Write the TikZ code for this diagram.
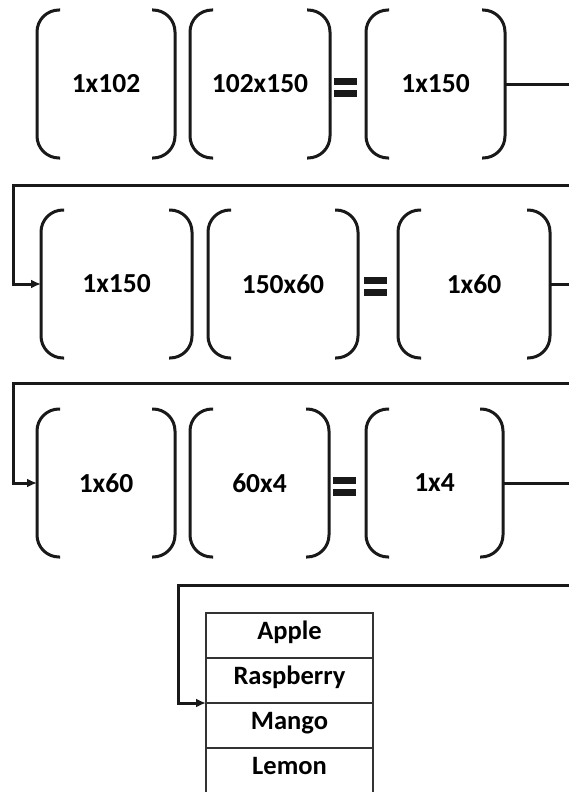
\documentclass[tikz,border=0pt]{standalone}
\usepackage{fontspec}
\setmainfont{Carlito}
\usepackage{tikz}
\usetikzlibrary{positioning, arrows.meta}
\tikzset{
  mat/.style={
    inner sep=0pt, outer sep=0pt, minimum height=148pt,
    font=\fontsize{27.5}{32}\selectfont\bfseries,
  },
  brk/.style={draw=black!90, line width=3pt, rounded corners=22pt},
  link/.style={draw=black!90, line width=3pt},
  flow/.style={draw=black!90, line width=3pt, -{Latex[length=10pt, width=9pt]}},
  eqsign/.style={
    inner sep=0pt, outer sep=0pt, minimum width=23pt, minimum height=19pt,
    path picture={
      \fill[black!90] (path picture bounding box.north west) rectangle ([yshift=-7pt]path picture bounding box.north east);
      \fill[black!90] ([yshift=7pt]path picture bounding box.south west) rectangle (path picture bounding box.south east);
    },
  },
  fruit/.style={
    draw=black!80, line width=1.3pt, inner sep=0pt, outer sep=0pt,
    minimum width=167pt, minimum height=45pt,
    text height=0.72em, text depth=0pt,
    font=\fontsize{26.5}{30}\selectfont\bfseries,
  },
}
\newcommand{\matbrackets}[1]{%
  \draw[brk] ([xshift=23pt]#1.north west) -- (#1.north west) -- (#1.south west) -- ([xshift=23pt]#1.south west);
  \draw[brk] ([xshift=-23pt]#1.north east) -- (#1.north east) -- (#1.south east) -- ([xshift=-23pt]#1.south east);}

\begin{document}
\begin{tikzpicture}[x=1pt, y=-1pt, >=Latex]
\useasboundingbox (0,0) rectangle (569,792);

% first product
\node[mat, minimum width=138pt] (a1) at (106,84) {1x102};
\node[mat, minimum width=140pt, right=15pt of a1] (b1) {102x150};
\node[eqsign, right=4pt of b1, yshift=-3pt] (eq1) {};
\node[mat, minimum width=139pt, right=9pt of b1.east, xshift=27pt] (c1) {1x150};

% second product
\node[mat, minimum width=151pt] (a2) at (116.5,284) {1x150};
\node[mat, minimum width=150pt, right=16pt of a2] (b2) {150x60};
\node[eqsign, right=6pt of b2, yshift=-2pt] (eq2) {};
\node[mat, minimum width=152pt, right=40pt of b2] (c2) {1x60};

% third product
\node[mat, minimum width=138pt] (a3) at (106,483) {1x60};
\node[mat, minimum width=139pt, right=15pt of a3] (b3) {60x4};
\node[eqsign, right=4pt of b3, yshift=-3pt] (eq3) {};
\node[mat, minimum width=137pt, right=37pt of b3] (c3) {1x4};

\foreach \m in {a1,b1,c1,a2,b2,c2,a3,b3,c3}{\matbrackets{\m}}

% output labels
\node[fruit] (fr1) at (289.5,635.5) {Apple};
\node[fruit, below=0pt of fr1] (fr2) {Raspberry};
\node[fruit, below=0pt of fr2] (fr3) {Mango};
\node[fruit, below=0pt of fr3] (fr4) {Lemon};

% links between the rows (they run out of the right edge)
\coordinate (edge) at (569,0);
\coordinate (r1) at (569,185);
\coordinate (r2) at (569,383);
\coordinate (r3) at (569,585);

\draw[link] (c1.east) -- (c1.east -| edge);
\draw[flow] (r1) -| ([xshift=-28pt]a2.west) -- (a2.west);
\draw[link] (c2.east) -- (c2.east -| edge);
\draw[flow] (r2) -| ([xshift=-24pt]a3.west) -- (a3.west);
\draw[link] (c3.east) -- (c3.east -| edge);
\draw[flow] (r3) -| ([xshift=-28pt]fr3.north west) -- (fr3.north west);

\end{tikzpicture}
\end{document}
